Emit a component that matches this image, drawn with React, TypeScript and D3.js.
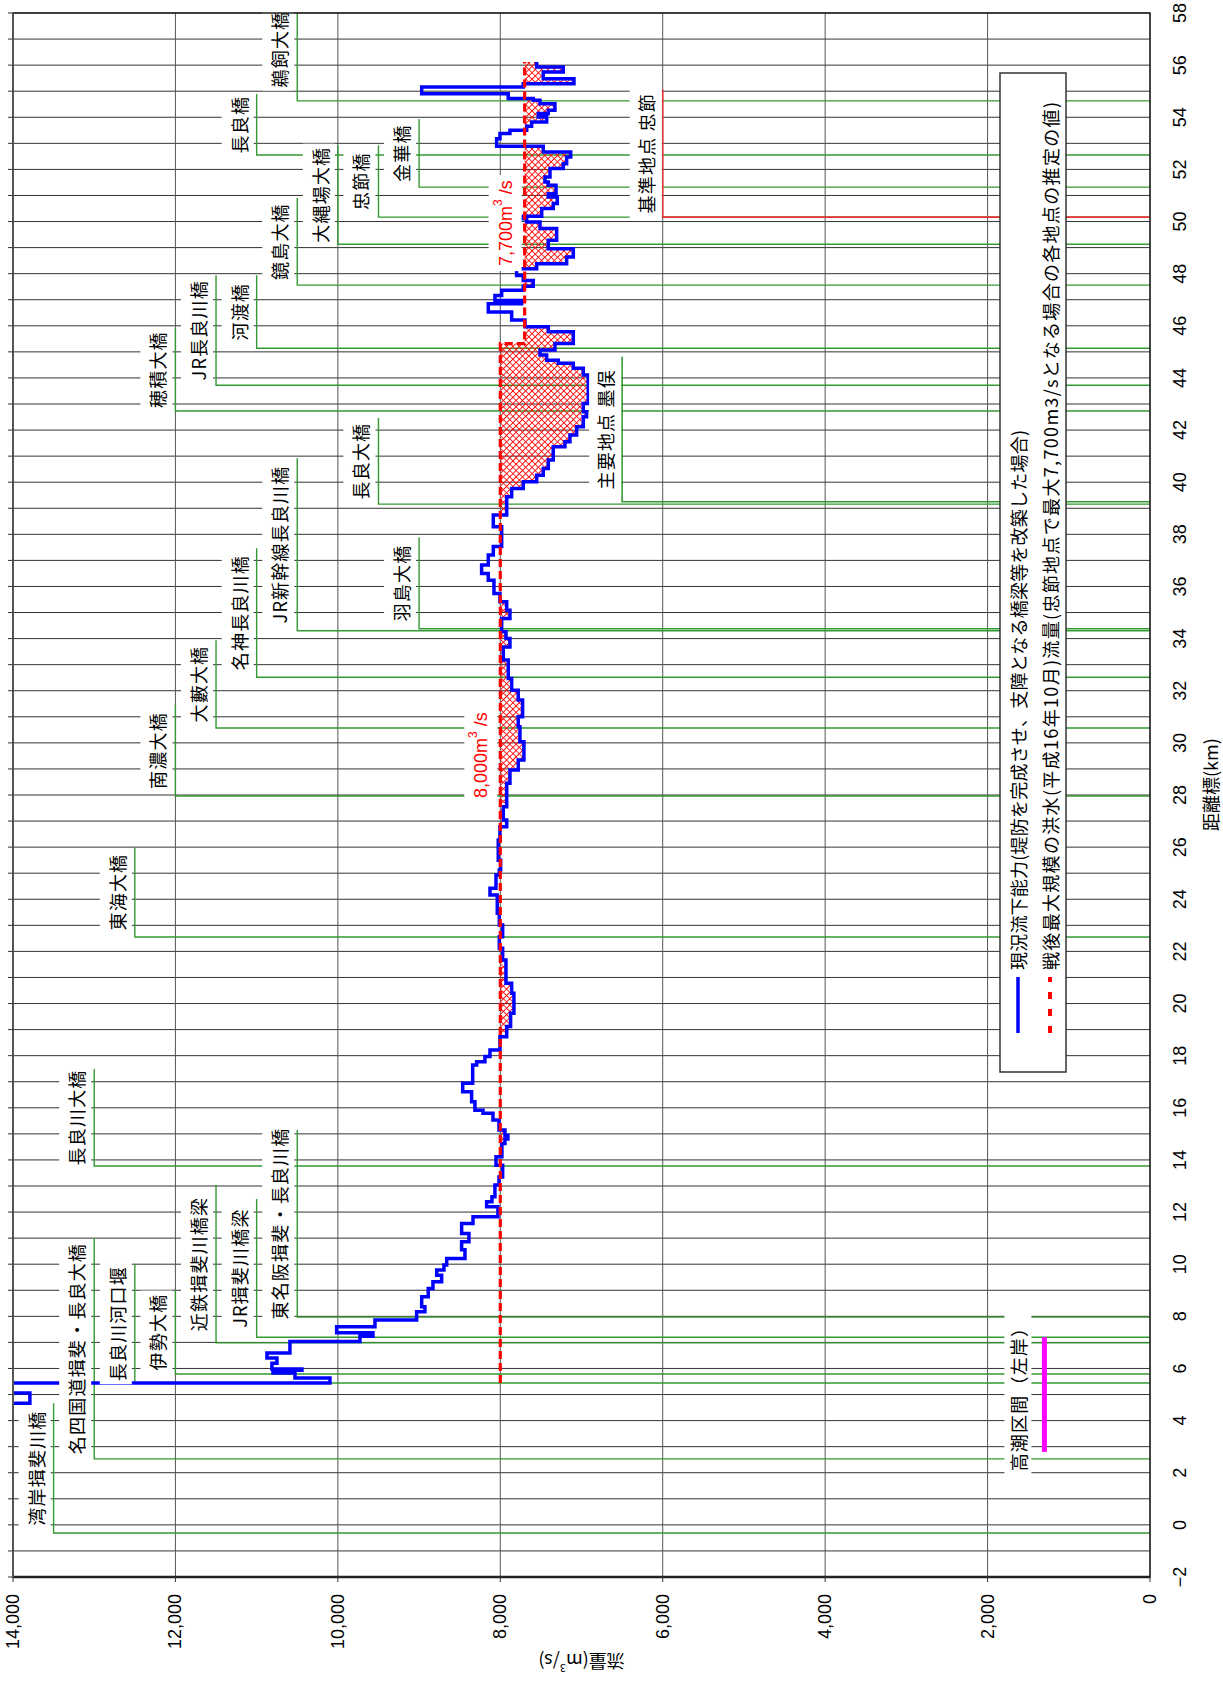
import * as d3 from "d3";

const W = 1223;
const H = 1686;

// 現況流下能力: step line, start km of each step and its value (m3/s)
const capKm = [
  0, 4.67, 5.06, 5.44, 5.63, 5.83, 5.93, 5.98, 6.2, 6.4, 6.59, 7.03, 7.24, 7.37, 7.6, 7.86,
  8.18, 8.37, 8.75, 9.07, 9.33, 9.58, 9.78, 9.97, 10.22, 10.55, 10.86, 11.18, 11.56, 11.82,
  12.2, 12.4, 12.59, 13.04, 13.35, 13.8, 14.12, 14.63, 14.8, 14.95, 15.15, 15.53, 15.79,
  15.91, 16.23, 16.62, 16.94, 17.64, 17.77, 17.97, 18.22, 18.73, 19.12, 19.63, 20.39, 20.78,
  21.67, 22.12, 22.56, 23.01, 23.46, 24.16, 24.42, 24.93, 25.12, 25.5, 26.27, 26.78, 27.04,
  27.55, 28.45, 28.96, 29.34, 30.04, 30.62, 31.0, 31.64, 32.02, 32.47, 33.18, 33.68, 34.0,
  34.26, 34.77, 35.09, 35.41, 35.73, 36.24, 36.5, 36.82, 37.21, 37.53, 38.29, 38.74, 39.44,
  39.76, 40.02, 40.27, 40.53, 40.85, 41.36, 41.55, 41.81, 42.13, 42.51, 42.7, 43.02, 44.11,
  44.37, 44.56, 44.68, 44.88, 45.07, 45.32, 45.77, 45.96, 46.22, 46.53, 46.85, 46.97, 47.16,
  47.36, 47.52, 47.74, 47.93, 48.19, 48.38, 48.64, 48.96, 49.28, 49.73, 49.98, 50.11, 50.2,
  50.5, 50.69, 50.94, 51.07, 51.39, 51.52, 51.71, 52.03, 52.22, 52.48, 52.67, 52.89, 53.18,
  53.38, 53.5, 53.66, 53.82, 54.01, 54.14, 54.27, 54.52, 54.65, 54.72, 54.9, 55.16, 55.29,
  55.48, 55.74, 55.93,
];
const capQ = [
  15000, 13792, 15000, 10097, 10528, 10799, 10442, 10812, 10750, 10873, 10590, 9728, 9568,
  10015, 9543, 9030, 8928, 8968, 8887, 8829, 8722, 8783, 8694, 8660, 8435, 8476, 8386, 8476,
  8336, 8029, 8168, 8103, 8066, 8016, 7971, 8053, 7980, 7943, 7906, 7943, 8016, 8090, 8213,
  8312, 8353, 8463, 8340, 8291, 8189, 8127, 8004, 7921, 7873, 7832, 7860, 7930, 7971, 8012,
  7971, 8012, 8037, 8127, 8053, 8012, 7996, 8025, 8004, 7921, 7963, 7921, 7881, 7779, 7709,
  7758, 7779, 7725, 7779, 7860, 7902, 7963, 7881, 7930, 7983, 7881, 7921, 8004, 8078, 8148,
  8230, 8148, 8086, 7983, 8086, 7921, 7860, 7717, 7552, 7471, 7409, 7348, 7204, 7142, 7060,
  6978, 6937, 6978, 6917, 6978, 7101, 7286, 7429, 7511, 7327, 7101, 7409, 7696, 7860, 8148,
  7737, 8066, 7983, 7717, 7594, 7717, 7799, 7552, 7183, 7101, 7409, 7306, 7511, 7675, 7779,
  7490, 7348, 7298, 7409, 7314, 7409, 7450, 7388, 7225, 7183, 7133, 7471, 8045, 8004, 7881,
  7675, 7614, 7429, 7532, 7409, 7327, 7511, 7594, 7902, 8968, 7717, 7093, 7471, 7225, 7552,
];
const capEnd = 56.12;

// 戦後最大規模の洪水流量
const floodKm = [5.44, 45.32, 56.12];
const floodQ = [8000, 7700, 7700];

// bridges: name, km, level of the leader, km where the leader starts
const bridgeNames = [
  "鵜飼大橋", "長良橋", "金華橋", "大縄場大橋", "忠節橋", "鏡島大橋", "河渡橋", "JR長良川橋",
  "穂積大橋", "長良大橋", "JR新幹線長良川橋", "羽島大橋", "名神長良川橋", "大藪大橋",
  "南濃大橋", "東海大橋", "長良川大橋", "東名阪揖斐・長良川橋", "JR揖斐川橋梁",
  "近鉄揖斐川橋梁", "伊勢大橋", "長良川河口堰", "名四国道揖斐・長良大橋", "湾岸揖斐川橋",
];
const bridgeKm = [
  54.63, 52.55, 51.32, 49.13, 50.17, 47.56, 45.14, 43.72, 42.73, 39.16, 34.3, 34.38, 32.52,
  30.57, 27.96, 22.55, 13.77, 7.97, 7.2, 6.98, 5.79, 5.44, 2.53, -0.31,
];
const bridgeLevel = [
  10500, 11000, 9000, 10000, 9500, 10500, 11000, 11500, 12000, 9500, 10500, 9000, 11000,
  11500, 12000, 12500, 13000, 10500, 11000, 11500, 12000, 12500, 13000, 13500,
];
const bridgeTop = [
  58.6, 54.89, 53.93, 52.93, 52.93, 50.9, 47.94, 47.94, 45.91, 42.46, 40.92, 37.89, 37.47,
  33.94, 31.45, 26.0, 17.49, 15.15, 12.5, 13.04, 9.01, 10.0, 11.0, 4.67,
];

const stationNames = ["主要地点 墨俣", "基準地点 忠節"];
const stationKm = [39.25, 50.17];
const stationLevel = [6500, 6000];
const stationTop = [44.81, 55.07];

const tideName = "高潮区間（左岸）";
const tideKm = [2.8, 7.2];
const tideQ = 1300;

const noteKm = [29.53, 49.94];
const noteQ = [8000, 7700];

const kmTicks = d3.range(-2, 59, 2);
const kmGrid = d3.range(-2, 59, 1);
const qTicks = d3.range(0, 14001, 2000);

const legendLabels = [
  "現況流下能力(堤防を完成させ、支障となる橋梁等を改築した場合)",
  "戦後最大規模の洪水(平成16年10月)流量(忠節地点で最大7,700m3/sとなる場合の各地点の推定の値)",
];

const JP = "'Noto Sans CJK JP', 'Noto Sans', sans-serif";
const NUM = "'Liberation Sans', Arial, sans-serif";
const GREEN = "#339933";

const stepAt = (ks: number[], qs: number[], k: number) => {
  let v = qs[0];
  for (let i = 0; i < ks.length; i++) if (ks[i] <= k) v = qs[i];
  return v;
};

const textWidth = (s: string, fs: number, ls: number) =>
  Array.from(s).reduce((w, ch) => w + (ch.charCodeAt(0) < 128 ? fs * 0.6 : fs) + ls, 0);

export default function App() {
  // drawn in the unrotated frame, then turned a quarter turn counter-clockwise
  const x = d3.scaleLinear().domain([-2, 58]).range([109, 1673]);
  const y = d3.scaleLinear().domain([0, 14000]).range([1150, 13]);
  const [u0, u1] = x.range();
  const v0 = y(14000);
  const v1 = y(0);

  const step = d3
    .line<[number, number]>()
    .x((d) => x(d[0]))
    .y((d) => y(d[1]))
    .curve(d3.curveStepAfter);

  const capPts: [number, number][] = capKm.map((k, i) => [k, capQ[i]]);
  capPts.push([capEnd, capQ[capQ.length - 1]]);
  const floodPts: [number, number][] = floodKm.map((k, i) => [k, floodQ[i]]);

  const lo = floodKm[0];
  const hi = floodKm[floodKm.length - 1];
  const breaks = Array.from(new Set([...capKm, ...floodKm]))
    .filter((k) => k >= lo && k <= hi)
    .sort((a, b) => a - b);
  const fillPts = breaks.map((k) => ({
    k,
    r: stepAt(floodKm, floodQ, k),
    c: stepAt(capKm, capQ, k),
  }));
  const area = d3
    .area<{ k: number; r: number; c: number }>()
    .x((d) => x(d.k))
    .y0((d) => y(d.r))
    .y1((d) => y(Math.min(d.c, d.r)))
    .curve(d3.curveStepAfter);

  const fmt = d3.format(",");
  const fs = 18;
  const ls = 1.2;

  return (
    <svg
      width={W}
      height={H}
      style={{ position: "absolute", left: 0, top: 0, background: "#fff" }}
    >
      <defs>
        <clipPath id="plot">
          <rect x={u0} y={v0} width={u1 - u0} height={v1 - v0} />
        </clipPath>
        <pattern
          id="hatch"
          width={4.5}
          height={4.5}
          patternUnits="userSpaceOnUse"
          patternTransform="rotate(45)"
        >
          <path d="M0 0H4.5M0 0V4.5" stroke="#ff0000" strokeWidth={1.6} />
        </pattern>
      </defs>
      <g transform={`translate(0,${H}) rotate(-90)`}>
        <rect x={u0} y={v0} width={u1 - u0} height={v1 - v0} fill="#fff" />
        {kmGrid.map((k) => (
          <line key={"g" + k} x1={x(k)} x2={x(k)} y1={v0} y2={v1} stroke="#333" strokeWidth={1} />
        ))}
        {qTicks.map((q) => (
          <line key={"h" + q} x1={u0} x2={u1} y1={y(q)} y2={y(q)} stroke="#555" strokeWidth={1} />
        ))}

        <g clipPath="url(#plot)">
          {bridgeNames.map((n, i) => (
            <path
              key={"l" + n}
              d={`M${x(bridgeTop[i])},${y(bridgeLevel[i])}H${x(bridgeKm[i])}V${y(0)}`}
              fill="none"
              stroke={GREEN}
              strokeWidth={1.4}
            />
          ))}
          {stationNames.map((n, i) => (
            <path
              key={"s" + n}
              d={`M${x(stationTop[i])},${y(stationLevel[i])}H${x(stationKm[i])}V${y(0)}`}
              fill="none"
              stroke={i === 0 ? GREEN : "#e53333"}
              strokeWidth={1.6}
            />
          ))}
          <path d={area(fillPts) ?? ""} fill="url(#hatch)" />
          <path
            d={step(capPts) ?? ""}
            fill="none"
            stroke="#0000ff"
            strokeWidth={3.5}
            strokeLinejoin="miter"
          />
          <path
            d={step(floodPts) ?? ""}
            fill="none"
            stroke="#ff0000"
            strokeWidth={3.2}
            strokeDasharray="8 4"
          />
          <line
            x1={x(tideKm[0])}
            x2={x(tideKm[1])}
            y1={y(tideQ)}
            y2={y(tideQ)}
            stroke="#ff00ff"
            strokeWidth={5}
          />
        </g>

        {bridgeNames.map((n, i) => {
          const cu = (x(bridgeKm[i]) + x(bridgeTop[i])) / 2;
          const lv = y(bridgeLevel[i]);
          const w = textWidth(n, fs, ls);
          return (
            <g key={"t" + n}>
              <rect x={cu - w / 2 - 3} y={lv - 35} width={w + 6} height={32} fill="#fff" />
              <text
                x={cu}
                y={lv - 18}
                textAnchor="middle"
                dominantBaseline="central"
                fontFamily={JP}
                fontSize={fs}
                letterSpacing={ls}
              >
                {n}
              </text>
            </g>
          );
        })}
        {stationNames.map((n, i) => {
          const cu = (x(stationKm[i]) + x(stationTop[i])) / 2;
          const lv = y(stationLevel[i]);
          const w = textWidth(n, fs, ls);
          return (
            <g key={"st" + n}>
              <rect x={cu - w / 2 - 3} y={lv - 33} width={w + 6} height={32} fill="#fff" />
              <text
                x={cu}
                y={lv - 17}
                textAnchor="middle"
                dominantBaseline="central"
                fontFamily={JP}
                fontSize={fs}
                letterSpacing={ls}
              >
                {n}
              </text>
            </g>
          );
        })}
        {(() => {
          const cu = (x(tideKm[0]) + x(tideKm[1])) / 2;
          const lv = y(tideQ) - 26;
          const w = textWidth(tideName, fs, ls);
          return (
            <g>
              <rect x={cu - w / 2 - 3} y={lv - 14} width={w + 6} height={27} fill="#fff" />
              <text
                x={cu}
                y={lv}
                textAnchor="middle"
                dominantBaseline="central"
                fontFamily={JP}
                fontSize={fs}
                letterSpacing={ls}
              >
                {tideName}
              </text>
            </g>
          );
        })()}
        {noteKm.map((k, i) => {
          const cu = x(k);
          const lv = y(noteQ[i]) - 19;
          return (
            <g key={"n" + k}>
              <rect x={cu - 48} y={lv - 17} width={96} height={33} fill="#fff" />
              <text
                x={cu}
                y={lv}
                textAnchor="middle"
                dominantBaseline="central"
                fontFamily={NUM}
                fontSize={18}
                fill="#ff0000"
              >
                {fmt(noteQ[i])}m
                <tspan fontSize={12} dy={-8}>
                  3
                </tspan>
                <tspan dy={8}> /s</tspan>
              </text>
            </g>
          );
        })}

        <g>
          <rect x={614} y={1000} width={999} height={66} fill="#fff" stroke="#333" strokeWidth={1.5} />
          <line x1={653} x2={709} y1={1018} y2={1018} stroke="#0000ff" strokeWidth={3.5} />
          <line
            x1={653}
            x2={709}
            y1={1050}
            y2={1050}
            stroke="#ff0000"
            strokeWidth={4}
            strokeDasharray="7 10"
          />
          {legendLabels.map((t, i) => (
            <text
              key={t}
              x={716}
              y={1018 + i * 32}
              dominantBaseline="central"
              fontFamily={JP}
              fontSize={18}
              textLength={i === 0 ? 540 : 868}
              lengthAdjust="spacing"
            >
              {t}
            </text>
          ))}
        </g>

        <rect x={u0} y={v0} width={u1 - u0} height={v1 - v0} fill="none" stroke="#222" strokeWidth={1.5} />
        <line x1={u0} x2={u0} y1={v0} y2={v1} stroke="#222" strokeWidth={2.5} />
        <line x1={u0} x2={u1} y1={v0} y2={v0} stroke="#555" strokeWidth={2} />
        {kmGrid.map((k) => (
          <line key={"tk" + k} x1={x(k)} x2={x(k)} y1={v0} y2={v0 - 5} stroke="#333" />
        ))}
        {qTicks.map((q) => (
          <line key={"tq" + q} x1={u0} x2={u0 - 5} y1={y(q)} y2={y(q)} stroke="#333" />
        ))}
        {kmTicks.map((k) => (
          <text
            key={"kl" + k}
            x={x(k)}
            y={1180}
            textAnchor="middle"
            dominantBaseline="central"
            fontFamily={NUM}
            fontSize={18}
          >
            {k < 0 ? `−${-k}` : k}
          </text>
        ))}
        {qTicks.map((q) => (
          <text
            key={"ql" + q}
            x={92}
            y={y(q)}
            textAnchor="end"
            dominantBaseline="central"
            fontFamily={NUM}
            fontSize={18}
          >
            {fmt(q)}
          </text>
        ))}
        <text
          x={x(28.4)}
          y={1210}
          textAnchor="middle"
          dominantBaseline="central"
          fontFamily={JP}
          fontSize={18}
        >
          距離標(km)
        </text>
        <text
          transform={`translate(24,${y(7000)}) rotate(-90)`}
          textAnchor="middle"
          dominantBaseline="central"
          fontFamily={JP}
          fontSize={18}
        >
          流量(m
          <tspan fontSize={11} dy={-7}>
            3
          </tspan>
          <tspan dy={7}>/s)</tspan>
        </text>
      </g>
    </svg>
  );
}
